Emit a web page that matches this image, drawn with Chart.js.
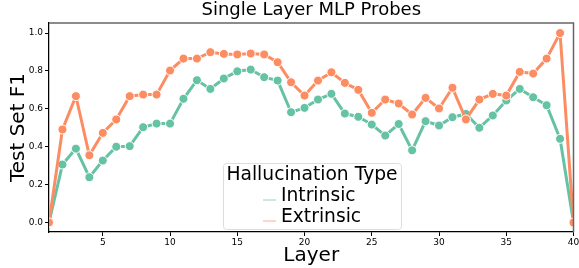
<!DOCTYPE html>
<html>
<head>
<meta charset="utf-8">
<script src="https://cdn.jsdelivr.net/npm/chart.js@4"></script>
<style>
  html, body { margin: 0; padding: 0; background: #fff; }
  #wrap { width: 579px; height: 268px; }
</style>
</head>
<body>
<div id="wrap"><canvas id="chart"></canvas></div>
<script>
const layers = [1, 2, 3, 4, 5, 6, 7, 8, 9, 10, 11, 12, 13, 14, 15, 16, 17, 18, 19, 20,
                21, 22, 23, 24, 25, 26, 27, 28, 29, 30, 31, 32, 33, 34, 35, 36, 37, 38, 39, 40];

const intrinsic = [0, 0.306, 0.39, 0.239, 0.327, 0.40, 0.403, 0.503, 0.522, 0.522,
                   0.653, 0.751, 0.705, 0.76, 0.798, 0.807, 0.767, 0.749, 0.582, 0.605,
                   0.649, 0.679, 0.575, 0.558, 0.517, 0.459, 0.52, 0.381, 0.535, 0.512,
                   0.556, 0.573, 0.50, 0.565, 0.644, 0.705, 0.661, 0.619, 0.442, 0];

const extrinsic = [0, 0.491, 0.667, 0.355, 0.473, 0.544, 0.667, 0.675, 0.675, 0.802,
                   0.865, 0.865, 0.899, 0.89, 0.887, 0.892, 0.887, 0.846, 0.74, 0.67,
                   0.749, 0.793, 0.737, 0.70, 0.579, 0.649, 0.628, 0.57, 0.658, 0.602,
                   0.711, 0.544, 0.649, 0.679, 0.67, 0.795, 0.786, 0.865, 1.0, 0];

const xTicks = [5, 10, 15, 20, 25, 30, 35, 40];
const yTicks = [0, 0.2, 0.4, 0.6, 0.8, 1.0];

const FONT = "'DejaVu Sans', sans-serif";
const GREEN = "#66c2a5";
const ORANGE = "#fc8d62";

const toPoints = vals => layers.map((l, i) => ({ x: l, y: vals[i] }));

/* ================= LEGEND INSIDE PLOT ================= */
const insideLegend = {
    id: "insideLegend",
    afterDraw(chart) {
        const ctx = chart.ctx;
        const x0 = 223, y0 = 163, w = 178, h = 66;
        ctx.save();
        ctx.fillStyle = "rgba(255,255,255,0.8)";
        ctx.strokeStyle = "#dddddd";
        ctx.lineWidth = 1;
        ctx.beginPath();
        ctx.roundRect(x0 + 0.5, y0 + 0.5, w, h, 3);
        ctx.fill();
        ctx.stroke();

        ctx.fillStyle = "#000";
        ctx.textBaseline = "middle";
        ctx.textAlign = "center";
        ctx.font = "18.7px " + FONT;
        ctx.fillText("Hallucination Type", x0 + w / 2, y0 + 12);

        ctx.textAlign = "left";
        chart.data.datasets.forEach((ds, i) => {
            const yy = y0 + 33 + i * 21;
            ctx.strokeStyle = ds.borderColor;
            ctx.globalAlpha = 0.7;
            ctx.lineWidth = 1;
            ctx.beginPath();
            ctx.moveTo(263, yy + 4);
            ctx.lineTo(276, yy + 4);
            ctx.stroke();
            ctx.globalAlpha = 1;
            ctx.fillStyle = "#000";
            ctx.fillText(ds.label, 281, yy);
        });
        ctx.restore();
    }
};

/* ================= TOP / RIGHT SPINES ================= */
const spines = {
    id: "spines",
    afterDraw(chart) {
        const { left, right, top, bottom } = chart.chartArea;
        const ctx = chart.ctx;
        ctx.save();
        ctx.strokeStyle = "#666";
        ctx.lineWidth = 1.5;
        ctx.beginPath();
        ctx.moveTo(left, top);
        ctx.lineTo(right, top);
        ctx.lineTo(right, bottom);
        ctx.stroke();
        ctx.restore();
    }
};

new Chart(document.getElementById("chart"), {
    type: "line",
    data: {
        datasets: [
            {
                label: "Intrinsic",
                data: toPoints(intrinsic),
                borderColor: GREEN,
                backgroundColor: GREEN,
                pointBackgroundColor: GREEN,
                pointBorderColor: "#fff",
                pointBorderWidth: 1,
                pointRadius: 4.5,
                borderWidth: 3,
                order: 1,
                clip: 0
            },
            {
                label: "Extrinsic",
                data: toPoints(extrinsic),
                borderColor: ORANGE,
                backgroundColor: ORANGE,
                pointBackgroundColor: ORANGE,
                pointBorderColor: "#fff",
                pointBorderWidth: 1,
                pointRadius: 4.5,
                borderWidth: 3,
                order: 0,
                clip: 0
            }
        ]
    },
    options: {
        responsive: true,
        maintainAspectRatio: false,
        animation: false,
        layout: { padding: { left: 0, right: 5, top: 0, bottom: 0 } },
        plugins: {
            legend: { display: false },
            tooltip: { enabled: false },
            title: {
                display: true,
                text: "Single Layer MLP Probes",
                fullSize: false,
                color: "#000",
                font: { family: FONT, size: 18, weight: "normal" },
                padding: { top: 0, bottom: 1.4 }
            }
        },
        scales: {
            x: {
                type: "linear",
                min: 1,
                max: 40,
                afterBuildTicks: s => { s.ticks = xTicks.map(v => ({ value: v })); },
                afterFit: s => { s.height = 36; s.paddingLeft = 0; s.paddingRight = 0; },
                grid: { drawOnChartArea: false, tickLength: 4, color: "#000" },
                border: { color: "#000", width: 1.25 },
                ticks: {
                    color: "#000",
                    padding: 1,
                    maxRotation: 0,
                    font: { family: FONT, size: 9 }
                },
                title: {
                    display: true,
                    text: "Layer",
                    color: "#000",
                    font: { family: FONT, size: 20 },
                    padding: 0
                }
            },
            y: {
                min: -0.05,
                max: 1.053,
                afterBuildTicks: s => { s.ticks = yTicks.map(v => ({ value: v })); },
                afterFit: s => { s.width = 49; },
                grid: { drawOnChartArea: false, tickLength: 4, color: "#000" },
                border: { color: "#000", width: 1.25 },
                ticks: {
                    color: "#000",
                    padding: 2,
                    font: { family: FONT, size: 9 },
                    callback: v => v.toFixed(1)
                },
                title: {
                    display: true,
                    text: "Test Set F1",
                    color: "#000",
                    font: { family: FONT, size: 20 },
                    padding: { top: 7, bottom: 0 }
                }
            }
        }
    },
    plugins: [spines, insideLegend]
});
</script>
</body>
</html>
